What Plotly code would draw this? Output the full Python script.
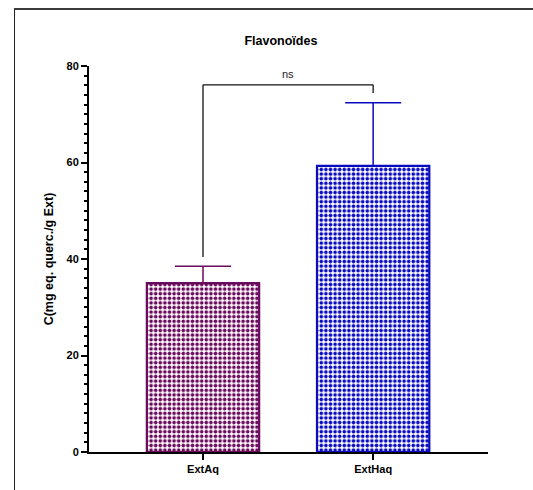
import plotly.graph_objects as go

# Flavonoid content per extract (mean and upper SD)
categories = ["ExtAq", "ExtHaq"]
means = [35.0, 59.3]
sd_upper = [3.5, 13.1]
bar_colors = ["#6a0a5c", "#0a0ac0"]

# Significance bracket between the two extracts
bracket_label = "ns"
bracket_top = 76.1
bracket_feet = [40.4, 74.4]

FONT = "Liberation Sans, Arial, sans-serif"

fig = go.Figure()
for cat, m, e, col in zip(categories, means, sd_upper, bar_colors):
    fig.add_trace(go.Bar(
        x=[cat], y=[m],
        width=0.66,
        marker=dict(
            color="white",
            line=dict(color=col, width=2.2),
            pattern=dict(shape=".", fgcolor=col, bgcolor="white",
                         fgopacity=1, size=4.6, solidity=0.5),
        ),
        error_y=dict(type="data", symmetric=False, array=[e], arrayminus=[0],
                     color=col, thickness=1.5, width=28),
        showlegend=False,
    ))

# invisible point that carries the full-page frame axes (x2/y2)
fig.add_trace(go.Scatter(x=[0.5], y=[0.5], xaxis="x2", yaxis="y2",
                         mode="markers", marker=dict(opacity=0, size=1),
                         hoverinfo="skip", showlegend=False))

# bracket drawn in data coordinates
bl = dict(color="#111", width=1.3)
fig.add_shape(type="line", xref="x", yref="y", x0=0, x1=0,
              y0=bracket_feet[0], y1=bracket_top, line=bl)
fig.add_shape(type="line", xref="x", yref="y", x0=0, x1=1,
              y0=bracket_top, y1=bracket_top, line=bl)
fig.add_shape(type="line", xref="x", yref="y", x0=1, x1=1,
              y0=bracket_feet[1], y1=bracket_top, line=bl)
fig.add_annotation(x=0.5, y=bracket_top, xref="x", yref="y", text=bracket_label,
                   showarrow=False, yanchor="bottom", yshift=3,
                   font=dict(family=FONT, size=11, color="#222"))

frame_axis = dict(domain=[0, 1], range=[0, 1], showticklabels=False, ticks="",
                  showgrid=False, zeroline=False, showline=True, fixedrange=True)

fig.update_layout(
    width=533, height=490,
    margin=dict(l=15, r=0, t=10, b=0, autoexpand=False),
    paper_bgcolor="white", plot_bgcolor="rgba(0,0,0,0)",
    barmode="overlay",
    font=dict(family=FONT, color="black"),
    title=dict(text="<b>Flavonoïdes</b>", x=0.527, xanchor="center",
               y=1 - 41 / 490, yanchor="middle",
               font=dict(family=FONT, size=12.5, color="black")),
    xaxis=dict(
        domain=[74 / 518, 473 / 518],
        range=[-0.67, 1.675], showgrid=False, zeroline=False,
        showline=True, linecolor="black", linewidth=2,
        ticks="outside", ticklen=6, tickwidth=2, tickcolor="black",
        tickfont=dict(family=FONT, size=11, color="black", weight="bold"),
    ),
    yaxis=dict(
        domain=[38 / 480, 424 / 480],
        range=[0, 80], dtick=20, showgrid=False, zeroline=False,
        showline=True, linecolor="black", linewidth=2,
        ticks="outside", ticklen=6, tickwidth=2, tickcolor="black",
        minor=dict(dtick=2, ticks="outside", ticklen=3.5, tickwidth=1.5,
                   tickcolor="black"),
        tickfont=dict(family=FONT, size=11, color="black", weight="bold"),
        title=dict(text="<b>C(mg eq. querc./g Ext)</b>", standoff=10,
                   font=dict(family=FONT, size=12.5, color="black")),
    ),
    xaxis2=dict(frame_axis, anchor="y2", side="top",
                linecolor="#3a3a3a", linewidth=2),
    yaxis2=dict(frame_axis, anchor="x2", side="left",
                linecolor="#222", linewidth=1.2),
)

fig.write_html("out.html")
